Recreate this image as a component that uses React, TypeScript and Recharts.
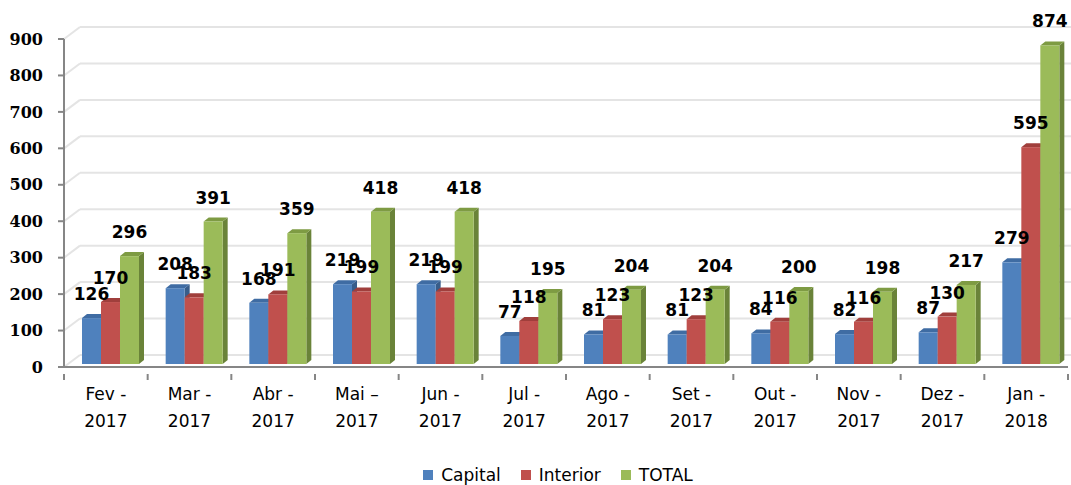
import { BarChart, Bar, XAxis, YAxis, CartesianGrid, Legend, LabelList } from "recharts";

const months = ["Fev -", "Mar -", "Abr -", "Mai –", "Jun -", "Jul -", "Ago -", "Set -", "Out -", "Nov -", "Dez -", "Jan -"];
const years = ["2017", "2017", "2017", "2017", "2017", "2017", "2017", "2017", "2017", "2017", "2017", "2018"];
const capital = [126, 208, 168, 219, 219, 77, 81, 81, 84, 82, 87, 279];
const interior = [170, 183, 191, 199, 199, 118, 123, 123, 116, 116, 130, 595];
const total = [296, 391, 359, 418, 418, 195, 204, 204, 200, 198, 217, 874];
const yTicks = [0, 100, 200, 300, 400, 500, 600, 700, 800, 900];

const data = months.map((m, i) => ({
  month: m,
  year: years[i],
  capital: capital[i],
  interior: interior[i],
  total: total[i],
}));

const W = 1071;
const H = 485;
const LEFT = 64;
const RIGHT = 3;
const BAND = (W - LEFT - RIGHT) / months.length;

// fake 3D: front face shift and depth of top/side faces
const SHIFT_X = 5;
const SHIFT_Y = -3;
const DX = 5;
const DY = 4;

const AXIS = "#868686";

const series = [
  { key: "capital", name: "Capital", front: "#4F81BD", top: "#3F6CA3", side: "#385D8A" },
  { key: "interior", name: "Interior", front: "#C0504D", top: "#A03F3C", side: "#8C3836" },
  { key: "total", name: "TOTAL", front: "#9BBB59", top: "#7E9B43", side: "#6A8339" },
];

function make3DBar(front: string, top: string, side: string) {
  return (props: any) => {
    const { x, y, width, height } = props;
    if (height == null || height <= 0) return <g />;
    const x0 = x + SHIFT_X;
    const y0 = y + SHIFT_Y;
    const x1 = x0 + width;
    const y1 = y0 + height;
    return (
      <g>
        <polygon points={`${x1},${y0} ${x1 + DX},${y0 - DY} ${x1 + DX},${y1 - DY} ${x1},${y1}`} fill={side} />
        <polygon points={`${x0},${y0} ${x0 + DX},${y0 - DY} ${x1 + DX},${y0 - DY} ${x1},${y0}`} fill={top} />
        <rect x={x0} y={y0} width={width} height={height} fill={front} />
      </g>
    );
  };
}

function ValueLabel(props: any) {
  const { x, y, width, value } = props;
  return (
    <text
      x={x + SHIFT_X + width / 2}
      y={y + SHIFT_Y - 18}
      textAnchor="middle"
      fontFamily="DejaVu Sans"
      fontWeight={700}
      fontSize={17}
      fill="#000"
    >
      {value}
    </text>
  );
}

function MonthTick(props: any) {
  const { x, y, payload, index } = props;
  const i = payload?.index ?? index ?? 0;
  const left = x - BAND / 2;
  return (
    <g>
      <line x1={left} y1={y - 1} x2={left} y2={y + 5} stroke={AXIS} strokeWidth={2} />
      {i === months.length - 1 && (
        <line x1={x + BAND / 2} y1={y - 1} x2={x + BAND / 2} y2={y + 5} stroke={AXIS} strokeWidth={2} />
      )}
      <text textAnchor="middle" fontFamily="DejaVu Sans" fontSize={17} fill="#000">
        <tspan x={x} y={y + 25}>{payload.value}</tspan>
        <tspan x={x} y={y + 52}>{years[i]}</tspan>
      </text>
    </g>
  );
}

function GridLine(props: any) {
  const { x1, y1, x2 } = props;
  return (
    <g>
      <line x1={x1} y1={y1} x2={x1 + 16} y2={y1 - 12} stroke="#E4E4E4" strokeWidth={2} />
      <line x1={x1 + 16} y1={y1 - 12} x2={x2 + 16} y2={y1 - 12} stroke="#E4E4E4" strokeWidth={2} />
    </g>
  );
}

function LegendContent() {
  return (
    <div
      style={{
        display: "flex",
        justifyContent: "center",
        alignItems: "center",
        height: 20,
        paddingLeft: 65,
        fontFamily: "DejaVu Sans",
        fontSize: 17,
        color: "#000",
      }}
    >
      {series.map((s) => (
        <div key={s.key} style={{ display: "flex", alignItems: "center", marginRight: 20 }}>
          <span style={{ width: 10, height: 10, background: s.front, marginRight: 8, display: "inline-block" }} />
          <span>{s.name}</span>
        </div>
      ))}
    </div>
  );
}

export default function App() {
  return (
    <div style={{ position: "absolute", left: 0, top: 0, background: "#fff" }}>
      <BarChart
        width={W}
        height={H}
        data={data}
        margin={{ top: 39, right: RIGHT, bottom: 28, left: 0 }}
        barSize={19}
        barGap={0}
      >
        <CartesianGrid vertical={false} horizontal={GridLine as any} />
        <XAxis
          dataKey="month"
          height={70}
          interval={0}
          tickLine={false}
          axisLine={{ stroke: AXIS, strokeWidth: 2 }}
          tick={<MonthTick />}
        />
        <YAxis
          width={LEFT}
          domain={[0, 900]}
          ticks={yTicks}
          interval={0}
          tickSize={6}
          tickMargin={15}
          axisLine={{ stroke: AXIS, strokeWidth: 2 }}
          tickLine={{ stroke: AXIS, strokeWidth: 2 }}
          tick={{ fontFamily: "DejaVu Serif", fontWeight: 700, fontSize: 16, fill: "#000" }}
        />
        <Legend
          verticalAlign="bottom"
          content={<LegendContent />}
          wrapperStyle={{ left: 0, width: W, bottom: 0 }}
        />
        {series.map((s) => (
          <Bar
            key={s.key}
            dataKey={s.key}
            name={s.name}
            fill={s.front}
            shape={make3DBar(s.front, s.top, s.side)}
            isAnimationActive={false}
          >
            <LabelList dataKey={s.key} content={<ValueLabel />} />
          </Bar>
        ))}
      </BarChart>
    </div>
  );
}
